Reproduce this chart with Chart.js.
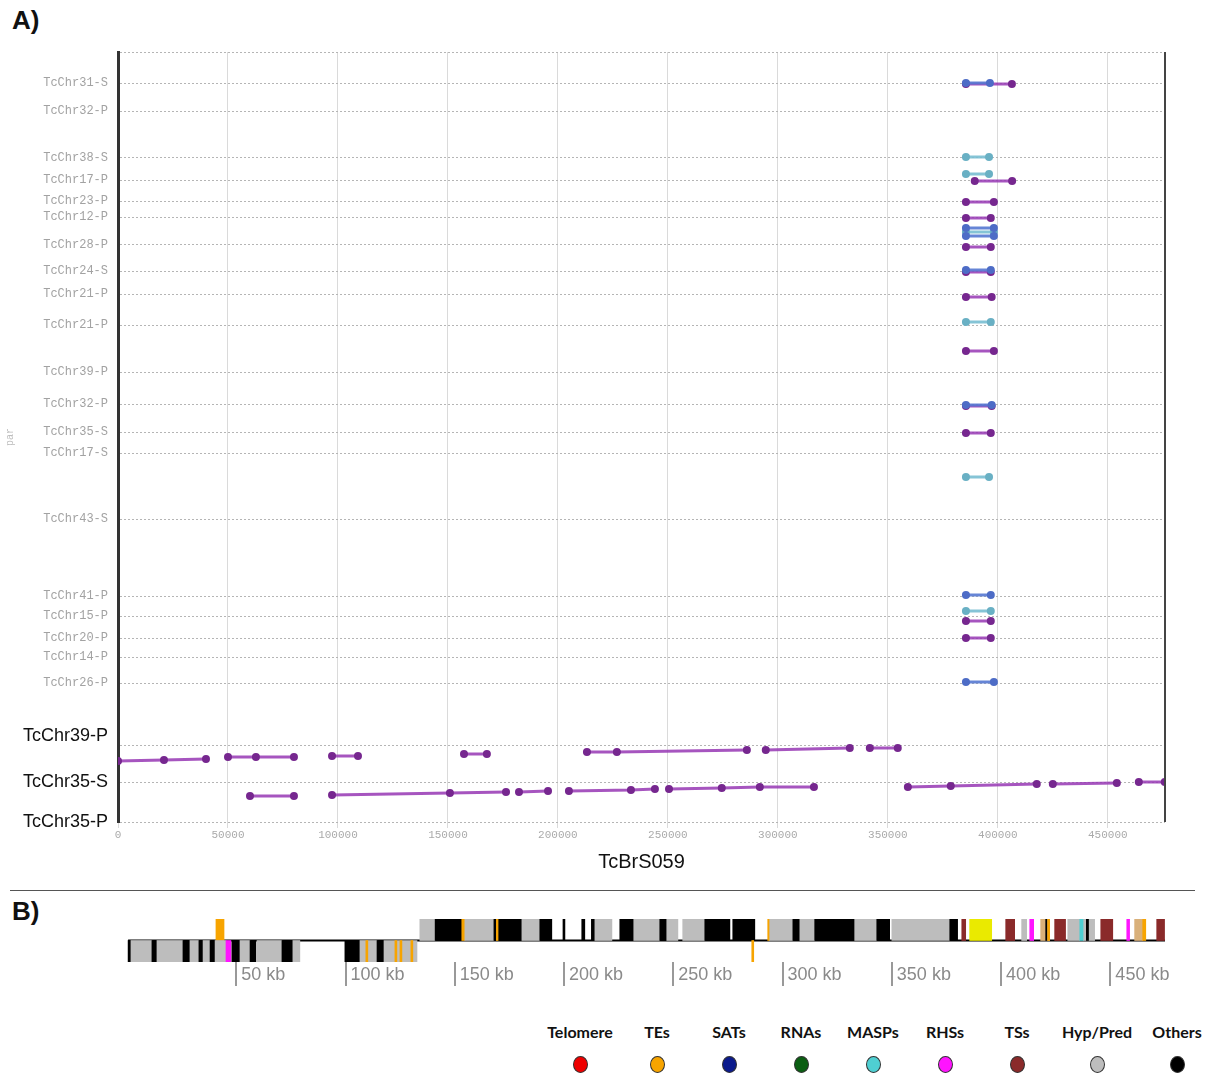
<!DOCTYPE html>
<html lang="en">
<head>
<meta charset="UTF-8">
<title>TcBrS059</title>
<script src="https://cdn.jsdelivr.net/npm/chart.js"></script>
<style>
    body { margin: 0; background: #fff; width: 1216px; height: 1076px; position: relative; overflow: hidden;
           font-family: 'Liberation Sans', Arial, sans-serif; }
    .tag { position: absolute; left: 12px; font-weight: bold; font-size: 26px; color: #111; }
    #boxA { position: absolute; left: 0; top: 40px; width: 1216px; height: 840px; }
    #boxB { position: absolute; left: 0; top: 900px; width: 1216px; height: 100px; }
    .sep { position: absolute; left: 10px; top: 890px; width: 1185px; height: 1px; background: #555; }
    .leg { position: absolute; top: 1022px; width: 90px; margin-left: -45px; text-align: center;
           font-family: Lato, sans-serif; font-weight: 700; font-size: 16px; color: #111; }
    .leg i { display: block; width: 13px; height: 15px; margin: 15px auto 0; border-radius: 50%;
             border: 1px solid #333; }
</style>
</head>
<body>

<div class="tag" style="top:5px">A)</div>
<div id="boxA"><canvas id="mapChart"></canvas></div>
<div class="sep"></div>
<div class="tag" style="top:896px">B)</div>
<div id="boxB"><canvas id="trackChart"></canvas></div>
<div id="legend"></div>

<script>
// ---- panel A: hits of TcBrS059 against the chromosome copies ----
const rowLabels = ['TcChr31-S', 'TcChr32-P', 'TcChr38-S', 'TcChr17-P', 'TcChr23-P', 'TcChr12-P', 'TcChr28-P',
    'TcChr24-S', 'TcChr21-P', 'TcChr21-P', 'TcChr39-P', 'TcChr32-P', 'TcChr35-S', 'TcChr17-S', 'TcChr43-S',
    'TcChr41-P', 'TcChr15-P', 'TcChr20-P', 'TcChr14-P', 'TcChr26-P', 'TcChr39-P', 'TcChr35-S', 'TcChr35-P'];
const rowPos = [31, 59, 106, 128, 149, 165, 193, 219, 242, 273, 320, 352, 380, 401, 467,
    544, 564, 586, 605, 631, 693, 730, 770];
const bigRows = 3; // the last three contigs get full size labels
const bpTicks = [0, 50000, 100000, 150000, 200000, 250000, 300000, 350000, 400000, 450000];

// segments: x = position on TcBrS059 (bp), y = track offset
const purpleX = [
    [0, 20900, 40000], [50000, 62700, 80000], [97300, 109100], [157300, 167700],
    [213200, 226800, 285900], [294500, 332700], [341800, 354500],
    [60000, 80000], [97300, 150900, 176400], [182300, 195500], [205000, 233200, 244100],
    [250500, 274500, 291800, 316400], [359100, 378600, 417700], [425000, 454100], [464100, 475900],
    [385500, 406400], [389500, 406500], [385500, 398200], [385500, 396800], [385500, 396800],
    [385500, 396800], [385500, 397200], [385500, 398200], [385500, 397200], [385500, 396800],
    [385500, 396800], [385500, 396800]
];
const purpleY = [
    [709, 708, 707], [705, 705, 705], [704, 704], [702, 702],
    [700, 700, 698], [698, 696], [696, 696],
    [744, 744], [743, 741, 740], [740, 739], [739, 738, 737],
    [737, 736, 735, 735], [735, 734, 732], [732, 731], [730, 730],
    [32, 32], [129, 129], [150, 150], [166, 166], [195, 195],
    [220, 220], [245, 245], [299, 299], [354, 354], [381, 381],
    [569, 569], [586, 586]
];
const blueX = [[385500, 396400], [385500, 398200], [385500, 398200], [385500, 396800],
    [385500, 397200], [385500, 396800], [385500, 398200]];
const blueY = [[31, 31], [176, 176], [184, 184], [218, 218], [353, 353], [543, 543], [630, 630]];
const cyanX = [[385500, 396000], [385500, 396000], [385500, 398200], [385500, 396800],
    [385500, 396000], [385500, 396800]];
const cyanY = [[105, 105], [122, 122], [180, 180], [270, 270], [425, 425], [559, 559]];

// ---- panel B: annotated features along TcBrS059 (kb) ----
const plusFeatures = [
    [134.0, 141.0, 'hyp'], [141.0, 153.2, 'oth'], [153.2, 154.6, 'te'], [154.6, 167.9, 'hyp'],
    [167.9, 180.7, 'oth'], [169.0, 169.8, 'te'], [180.7, 188.9, 'hyp'], [188.9, 194.4, 'oth'],
    [199.5, 200.4, 'oth'], [208.1, 209.5, 'oth'], [212.5, 214.1, 'oth'], [214.1, 221.9, 'hyp'],
    [225.5, 231.9, 'oth'], [231.9, 243.8, 'hyp'], [243.8, 247.0, 'oth'], [247.0, 252.1, 'hyp'],
    [254.3, 264.4, 'hyp'], [264.4, 275.9, 'oth'], [277.2, 287.3, 'oth'], [293.2, 294.1, 'te'],
    [294.1, 304.7, 'hyp'], [304.7, 307.9, 'oth'], [307.9, 314.7, 'hyp'], [314.7, 333.0, 'oth'],
    [333.0, 343.1, 'hyp'], [343.1, 349.0, 'oth'], [350.0, 376.5, 'hyp'], [376.5, 380.1, 'oth'],
    [382.0, 383.8, 'ts'], [385.6, 395.7, 'yel'], [402.1, 406.2, 'ts'], [409.4, 411.7, 'hyp'],
    [413.1, 414.9, 'rhs'], [418.1, 422.2, 'tan'], [420.4, 421.0, 'oth'], [421.3, 422.2, 'te'],
    [424.5, 429.5, 'ts'], [430.5, 436.0, 'hyp'], [436.0, 437.8, 'masp'], [437.8, 442.8, 'hyp'],
    [439.0, 440.0, 'oth'], [445.6, 451.1, 'ts'], [457.5, 458.8, 'rhs'], [461.1, 464.8, 'tan'],
    [464.8, 466.2, 'te'], [471.2, 474.8, 'ts'], [40.7, 44.4, 'te']
];
const minusFeatures = [
    [0.5, 1.8, 'oth'], [1.8, 11.4, 'hyp'], [11.4, 13.7, 'oth'], [13.7, 25.6, 'hyp'],
    [25.6, 28.8, 'oth'], [28.8, 32.9, 'hyp'], [32.9, 34.8, 'oth'], [34.8, 38.0, 'hyp'],
    [38.0, 40.3, 'oth'], [40.3, 45.3, 'hyp'], [45.3, 47.6, 'rhs'], [48.0, 51.7, 'oth'],
    [51.7, 56.3, 'hyp'], [56.3, 59.0, 'oth'], [59.5, 70.9, 'hyp'], [70.9, 75.9, 'oth'],
    [75.9, 79.1, 'hyp'], [99.7, 106.6, 'oth'], [106.6, 114.4, 'hyp'], [109.3, 110.2, 'te'],
    [114.4, 117.6, 'oth'], [117.6, 132.7, 'hyp'], [122.6, 123.5, 'te'], [124.9, 125.8, 'te'],
    [129.9, 130.8, 'te'], [285.9, 286.8, 'te']
];
const kbTicks = [50, 100, 150, 200, 250, 300, 350, 400, 450];
const trackSpan = [0.5, 475];

const legendNames = ['Telomere', 'TEs', 'SATs', 'RNAs', 'MASPs', 'RHSs', 'TSs', 'Hyp/Pred', 'Others'];
const legendKeys = ['tel', 'te', 'sat', 'rna', 'masp', 'rhs', 'ts', 'hyp', 'oth'];

const featureColors = {
    tel: '#ee0000', te: '#f7a400', sat: '#0b1a8c', rna: '#0b5e12', masp: '#4fcfd2', rhs: '#ff14ff',
    ts: '#8a2a2a', hyp: '#bdbdbd', oth: '#000000', yel: '#eaea00', tan: '#d9b07a'
};

// ---------------- panel A chart ----------------
function segDatasets(xs, ys, line, dot) {
    return xs.map((xv, i) => ({
        data: xv.map((x, j) => ({ x: x, y: ys[i][j] })),
        borderColor: line,
        borderWidth: 3,
        pointRadius: 4,
        pointBackgroundColor: dot,
        pointBorderWidth: 0,
        tension: 0
    }));
}

const datasetsA = [].concat(
    segDatasets(blueX, blueY, 'rgba(85,120,210,0.9)', '#4d6cc6'),
    segDatasets(cyanX, cyanY, 'rgba(120,190,210,0.9)', '#69b0c4'),
    segDatasets(purpleX, purpleY, 'rgba(150,55,180,0.85)', '#76278f')
);

const rightEdge = {
    id: 'rightEdge',
    afterDraw(chart) {
        const { ctx, chartArea } = chart;
        ctx.save();
        ctx.strokeStyle = '#444';
        ctx.lineWidth = 2;
        ctx.beginPath();
        ctx.moveTo(chartArea.right, chartArea.top);
        ctx.lineTo(chartArea.right, chartArea.bottom);
        ctx.stroke();
        ctx.restore();
    }
};

const isBig = c => !!c.tick && rowPos.indexOf(c.tick.value) >= rowPos.length - bigRows;

new Chart(document.getElementById('mapChart'), {
    type: 'line',
    data: { datasets: datasetsA },
    options: {
        responsive: true,
        maintainAspectRatio: false,
        animation: false,
        layout: { padding: { top: 12, right: 51, left: 0, bottom: 0 } },
        plugins: { legend: { display: false }, tooltip: { enabled: false } },
        scales: {
            x: {
                type: 'linear', min: 0, max: 476000,
                afterBuildTicks: s => { s.ticks = bpTicks.map(v => ({ value: v })); },
                ticks: {
                    maxRotation: 0, padding: 0, color: '#aaaaaa',
                    font: { family: 'Liberation Mono', size: 11 },
                    callback: v => String(v)
                },
                grid: { color: '#dadada', tickLength: 6 },
                border: { display: false },
                title: {
                    display: true, text: 'TcBrS059', color: '#111',
                    font: { family: 'Liberation Sans', size: 20 }, padding: { top: 2, bottom: 6 }
                },
                afterFit: s => { s.height = 58; }
            },
            y: {
                type: 'linear', reverse: true, min: 0, max: 770,
                afterBuildTicks: s => { s.ticks = [0].concat(rowPos).map(v => ({ value: v })); },
                ticks: {
                    autoSkip: false, padding: 10,
                    color: c => isBig(c) ? '#111' : '#a2a2a2',
                    font: c => isBig(c)
                        ? { family: 'Liberation Sans', size: 18, lineHeight: 1 }
                        : { family: 'Liberation Mono', size: 12 },
                    callback: v => {
                        const i = rowPos.indexOf(v);
                        if (i < 0) return '';
                        // first big contig label sits a little above its line
                        return i === rowPos.length - bigRows ? [rowLabels[i], ''] : rowLabels[i];
                    }
                },
                grid: { color: '#b5b5b5', drawTicks: false },
                border: { display: true, color: '#333', width: 3, dash: [2, 2] },
                title: {
                    display: true, text: 'par', color: '#bdbdbd',
                    font: { family: 'Liberation Mono', size: 10 }
                },
                afterFit: s => { s.width = 118; s.paddingTop = 0; s.paddingBottom = 0; }
            }
        }
    },
    plugins: [rightEdge]
});

// ---------------- panel B chart ----------------
const trackData = []
    .concat(plusFeatures.map(f => ({ x: [f[0], f[1]], y: 'plus', t: f[2] })))
    .concat(minusFeatures.map(f => ({ x: [f[0], f[1]], y: 'minus', t: f[2] })));

const backbone = {
    id: 'backbone',
    beforeDatasetsDraw(chart) {
        const { ctx, chartArea, scales } = chart;
        const midY = (chartArea.top + chartArea.bottom) / 2;
        ctx.save();
        ctx.strokeStyle = '#000';
        ctx.lineWidth = 2;
        ctx.beginPath();
        ctx.moveTo(scales.x.getPixelForValue(trackSpan[0]), midY);
        ctx.lineTo(scales.x.getPixelForValue(trackSpan[1]), midY);
        ctx.stroke();
        ctx.restore();
    }
};

new Chart(document.getElementById('trackChart'), {
    type: 'bar',
    data: {
        labels: ['plus', 'minus'],
        datasets: [{
            data: trackData,
            backgroundColor: c => c.raw ? featureColors[c.raw.t] : '#bdbdbd',
            borderWidth: 0,
            barPercentage: 1,
            categoryPercentage: 1
        }]
    },
    options: {
        indexAxis: 'y',
        responsive: true,
        maintainAspectRatio: false,
        animation: false,
        layout: { padding: { top: 19, left: 127, right: 51, bottom: 0 } },
        plugins: { legend: { display: false }, tooltip: { enabled: false } },
        scales: {
            y: { display: false },
            x: {
                type: 'linear', min: 0, max: 475,
                afterBuildTicks: s => { s.ticks = kbTicks.map(v => ({ value: v })); },
                ticks: {
                    align: 'start', padding: -22, color: '#8a8a8a',
                    font: { family: 'Liberation Sans', size: 18 },
                    callback: v => ' ' + v + ' kb'
                },
                grid: { drawOnChartArea: false, color: '#999', lineWidth: 2, tickLength: 24 },
                border: { display: false },
                afterFit: s => { s.height = 38; }
            }
        }
    },
    plugins: [backbone]
});

// ---------------- legend ----------------
const legendCenters = [580, 657, 729, 801, 873, 945, 1017, 1097, 1177];
const legendBox = document.getElementById('legend');
legendNames.forEach((name, i) => {
    const d = document.createElement('div');
    d.className = 'leg';
    d.style.left = legendCenters[i] + 'px';
    d.innerHTML = name + '<i style="background:' + featureColors[legendKeys[i]] + '"></i>';
    legendBox.appendChild(d);
});
</script>
</body>
</html>
